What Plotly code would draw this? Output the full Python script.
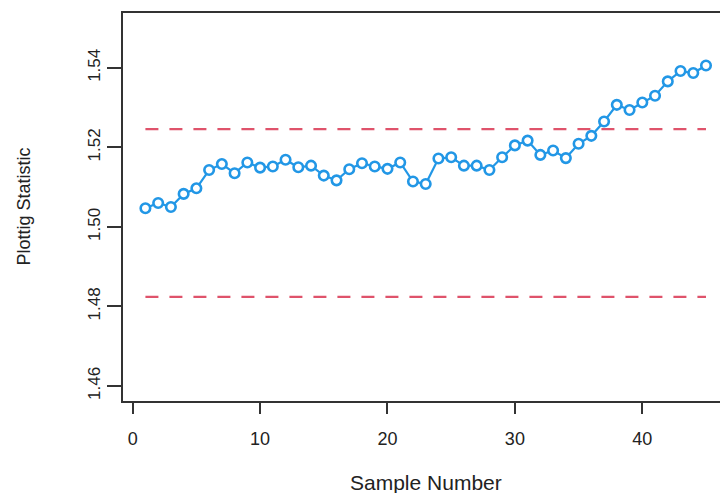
import plotly.graph_objects as go

# ---- data ----
sample_number = list(range(1, 46))
plotting_statistic = [
    1.5047, 1.5060, 1.5050, 1.5083, 1.5097, 1.5143, 1.5158, 1.5135, 1.5162, 1.5149,
    1.5152, 1.5169, 1.5150, 1.5154, 1.5129, 1.5117, 1.5145, 1.5160, 1.5152, 1.5146,
    1.5162, 1.5114, 1.5108, 1.5172, 1.5175, 1.5154, 1.5154, 1.5143, 1.5175, 1.5205,
    1.5217, 1.5181, 1.5192, 1.5173, 1.5209, 1.5229, 1.5265, 1.5307, 1.5294, 1.5313,
    1.5330, 1.5366, 1.5392, 1.5387, 1.5406,
]
upper_limit = 1.5246
lower_limit = 1.4824
x_ticks = [0, 10, 20, 30, 40]
y_ticks = [1.46, 1.48, 1.50, 1.52, 1.54]
y_tick_labels = ["1.46", "1.48", "1.50", "1.52", "1.54"]

BLUE = "#2297E6"
RED = "#DF536B"
TXT = "#222222"
FONT = "Liberation Sans, Arial, sans-serif"

fig = go.Figure()

limit_x = [sample_number[0], sample_number[-1]]
for lim in (upper_limit, lower_limit):
    fig.add_trace(go.Scatter(
        x=limit_x, y=[lim, lim], mode="lines",
        line=dict(color=RED, width=2.2, dash="13px,11px"),
        hoverinfo="skip", showlegend=False,
    ))

fig.add_trace(go.Scatter(
    x=sample_number, y=plotting_statistic, mode="lines+markers",
    line=dict(color=BLUE, width=2.2),
    marker=dict(symbol="circle", size=9.5, color="white",
                line=dict(color=BLUE, width=2.6)),
    showlegend=False,
))

fig.update_layout(
    width=720, height=493,
    margin=dict(l=123, r=0, t=13, b=92),
    paper_bgcolor="white", plot_bgcolor="white",
    font=dict(family=FONT, color=TXT),
    xaxis=dict(
        range=[-0.76, 46.1], tickvals=x_ticks,
        showgrid=False, zeroline=False,
        showline=True, mirror=True, linecolor="#333333", linewidth=1.5,
        ticks="outside", ticklen=11, tickwidth=1.5, tickcolor="#333333",
        tickfont=dict(size=18, family=FONT, color=TXT),
        ticklabelstandoff=10,
    ),
    yaxis=dict(
        range=[1.4562, 1.5538], tickvals=y_ticks, ticktext=y_tick_labels,
        showgrid=False, zeroline=False,
        showline=True, mirror=False, linecolor="#333333", linewidth=1.5,
        ticks="outside", ticklen=14, tickwidth=1.5, tickcolor="#333333",
        tickangle=-90,
        tickfont=dict(size=17, family=FONT, color=TXT),
        ticklabelstandoff=0,
    ),
    annotations=[
        dict(text="Sample Number", xref="paper", yref="paper",
             x=0.5075, y=-0.2113, xanchor="center", yanchor="middle",
             showarrow=False, font=dict(size=21, family=FONT, color=TXT)),
        dict(text="Plottig Statistic", xref="paper", yref="paper",
             x=-0.1642, y=0.5013, xanchor="center", yanchor="middle",
             textangle=-90, showarrow=False,
             font=dict(size=18, family=FONT, color=TXT)),
    ],
)

fig.write_html("out.html")
